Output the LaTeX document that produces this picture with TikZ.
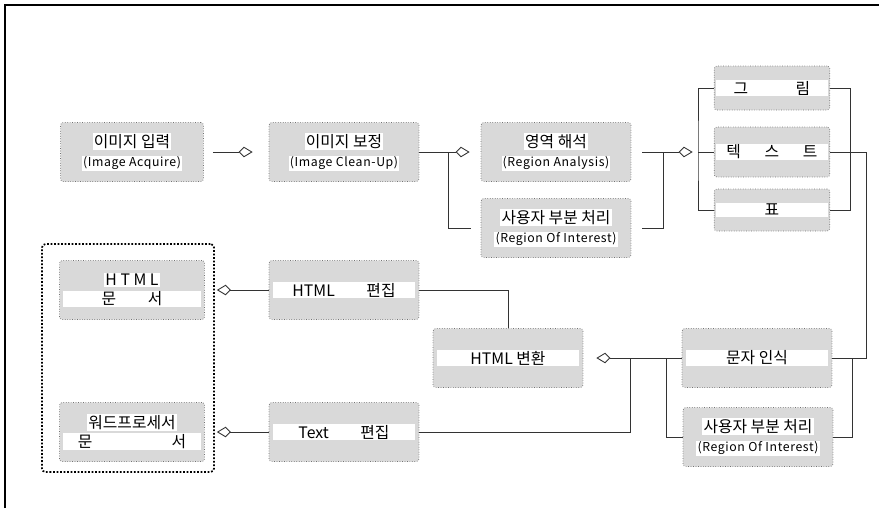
\documentclass[tikz,border=0pt]{standalone}
\usepackage{fontspec}
\newfontfamily\kr{Noto Sans CJK KR}
\usetikzlibrary{arrows.meta}
\newcommand{\wrow}[2][2.8cm]{{\setlength{\fboxsep}{0.6pt}\colorbox{white}{\makebox[#1]{#2}}}}
\newcommand{\wtxt}[1]{{\setlength{\fboxsep}{0.6pt}\colorbox{white}{#1}}}
\newcommand{\eng}[1]{{\fontsize{7}{8}\selectfont\addfontfeature{LetterSpace=5}#1}}
\begin{document}
\begin{tikzpicture}[x=0.02cm,y=-0.02cm,font=\kr\fontsize{9}{11}\selectfont,
  blk/.style={draw=black!55,densely dotted,fill=gray!30,rounded corners=1.5pt,minimum width=3cm,minimum height=1.18cm,align=center,inner sep=1pt},
  ln/.style={line width=0.5pt,black!80},
  arr/.style={ln,-{Kite[open,length=8pt,width=6pt,inset=3pt]}}]
  \useasboundingbox (0,0) rectangle (879,508);
  \draw[line width=0.8pt] (5,508) -- (5,5) -- (879,5);
  \node[blk,minimum width=2.86cm] (acq) at (132,152){\wtxt{이미지 입력}\\\eng{\wtxt{(Image Acquire)}}};
  \node[blk] (cln) at (344,152){\wtxt{이미지 보정}\\\eng{\wtxt{(Image Clean-Up)}}};
  \node[blk] (rga) at (556,152){\wtxt{영역 해석}\\\eng{\wtxt{(Region Analysis)}}};
  \node[blk] (roi1) at (556,228){\wtxt{사용자 부분 처리}\\\eng{\wtxt{(Region Of Interest)}}};
  \node[blk,minimum width=2.3cm,minimum height=0.88cm] (pic) at (772,88){\wrow[2.2cm]{그\hspace{3em}림}};
  \node[blk,minimum width=2.3cm,minimum height=1cm] (txt) at (772,152){\wrow[2.2cm]{텍\hspace{1.5em}스\hspace{1.5em}트}};
  \node[blk,minimum width=2.3cm,minimum height=0.84cm] (tbl) at (772,210){\wrow[2.2cm]{표}};
  \node[blk] (ocr) at (757,358){\wrow{문자 인식}};
  \node[blk] (roi2) at (758,437){\wtxt{사용자 부분 처리}\\\eng{\wtxt{(Region Of Interest)}}};
  \node[blk] (conv) at (508,358){\wrow{HTML 변환}};
  \node[blk] (hed) at (344,290){\wrow{HTML\hspace{2em}편집}};
  \node[blk] (ted) at (344,432){\wrow{Text\hspace{2em}편집}};
  \node[blk,minimum width=2.9cm] (hdoc) at (132,290){\wtxt{H T M L}\\\wrow[2.7cm]{문\hspace{2em}서}};
  \node[blk,minimum width=2.9cm] (wdoc) at (132,432){\wtxt{워드프로세서}\\\wrow[2.7cm]{문\hspace{5em}서}};
  \node[draw,densely dotted,line width=1pt,rounded corners=2pt,minimum width=3.44cm,minimum height=4.56cm] (grp) at (128,358){};
  \coordinate (j1) at (448,152);
  \coordinate (j2) at (663,152);
  \coordinate (j3) at (698,152);
  \coordinate (j4) at (850,152);
  \coordinate (j5) at (866,358);
  \coordinate (j6) at (852,358);
  \coordinate (j7) at (666,358);
  \coordinate (j8) at (630,358);
  \draw[arr,shorten <=0.18cm,shorten >=0.32cm] (acq) -- (cln);
  \draw[arr,shorten >=0.22cm] (cln) -- (rga);
  \draw[ln,shorten >=0.2cm] (j1) |- (roi1);
  \draw[ln,shorten <=0.22cm] (roi1) -| (j2);
  \draw[arr,shorten <=0.22cm,shorten >=3pt] (rga) -- (j3);
  \draw[ln] (pic.west) -| (j3) |- (tbl.west);
  \draw[ln] (j3) -- (txt.west);
  \draw[ln] (pic.east) -| (j4) |- (tbl.east);
  \draw[ln] (txt.east) -| (j5) -- (ocr.east);
  \draw[ln] (j6) |- (roi2.east);
  \draw[arr,shorten >=0.26cm] (ocr) -- (conv);
  \draw[ln] (j7) |- (roi2.west);
  \draw[ln] (j8) |- (ted.east);
  \draw[ln] (hed.east) -| (conv.north);
  \draw[arr,shorten >=0.24cm] (hed) -- (hdoc);
  \draw[arr,shorten >=0.24cm] (ted) -- (wdoc);
\end{tikzpicture}
\end{document}
